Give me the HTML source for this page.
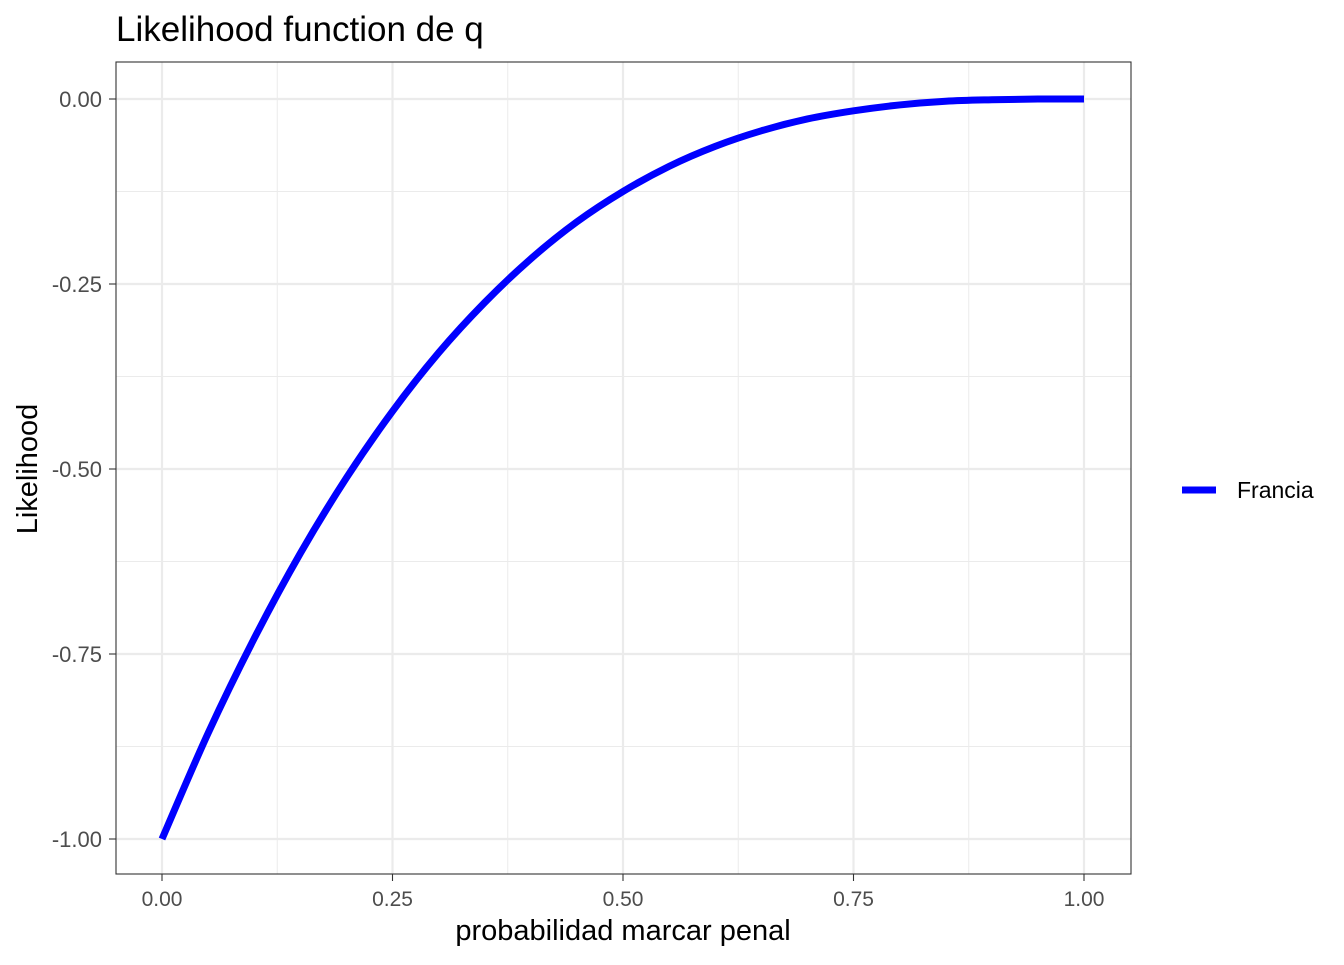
<!DOCTYPE html>
<html><head><meta charset="utf-8"><style>
body{margin:0;background:#fff}
svg text{font-family:"Liberation Sans",Arial,sans-serif}
</style></head><body>
<svg id="chart" width="1344" height="960" xmlns="http://www.w3.org/2000/svg">
<rect width="1344" height="960" fill="#fff"/>
<text x="116" y="41" font-size="35" fill="#000">Likelihood function de q</text>
<g id="grid"></g>
<g id="series"></g>
<rect x="116" y="62" width="1015" height="812" fill="none" stroke="#333" stroke-width="1.1"/>
<g id="axes"></g>
<text x="623" y="940" font-size="29" text-anchor="middle" fill="#000">probabilidad marcar penal</text>
<text transform="translate(37,469) rotate(-90)" font-size="29" text-anchor="middle" fill="#000">Likelihood</text>
<g>
<line x1="1182" y1="490" x2="1216" y2="490" stroke="#0000ff" stroke-width="7"/>
<text x="1237" y="498" font-size="23" fill="#000">Francia</text>
</g>
</svg>
<script>
const qValues=[0,0.05,0.1,0.15,0.2,0.25,0.3,0.35,0.4,0.45,0.5,0.55,0.6,0.65,0.7,0.75,0.8,0.85,0.9,0.95,1];
const likelihoodValues=[-1,-0.857,-0.729,-0.614,-0.512,-0.422,-0.343,-0.275,-0.216,-0.166,-0.125,-0.091,-0.064,-0.043,-0.027,-0.016,-0.008,-0.003,-0.001,0,0];
const xTicks=[0,0.25,0.5,0.75,1];
const xTickLabels=["0.00","0.25","0.50","0.75","1.00"];
const yTicks=[0,-0.25,-0.5,-0.75,-1];
const yTickLabels=["0.00","-0.25","-0.50","-0.75","-1.00"];
const NS="http://www.w3.org/2000/svg";
const xS=v=>162+v*922;
const yS=v=>99-v*740;
const grid=document.getElementById('grid'),axes=document.getElementById('axes'),series=document.getElementById('series');
function mk(tag,attrs,parent){const e=document.createElementNS(NS,tag);for(const k in attrs)e.setAttribute(k,attrs[k]);parent.appendChild(e);return e;}
for(let i=0;i<xTicks.length-1;i++){const m=(xTicks[i]+xTicks[i+1])/2;
 const l=mk('line',{x1:xS(m),x2:xS(m),y1:62,y2:874,stroke:'#ebebeb','stroke-width':1},grid);
 
 }
for(let i=0;i<yTicks.length-1;i++){const m=(yTicks[i]+yTicks[i+1])/2;
 const l=mk('line',{y1:yS(m),y2:yS(m),x1:116,x2:1131,stroke:'#ebebeb','stroke-width':1},grid);
 
 }
xTicks.forEach((t,i)=>{
 const g=mk('line',{x1:xS(t),x2:xS(t),y1:62,y2:874,stroke:'#ebebeb','stroke-width':2.2},grid);
 
 
 const tk=mk('line',{x1:xS(t),x2:xS(t),y1:874,y2:881,stroke:'#333','stroke-width':1.1},axes);
 
 
 const tx=mk('text',{x:xS(t),y:906,'font-size':21,fill:'#4d4d4d','text-anchor':'middle'},axes);
 tx.textContent=xTickLabels[i];
 
 
});
yTicks.forEach((t,i)=>{
 const g=mk('line',{y1:yS(t),y2:yS(t),x1:116,x2:1131,stroke:'#ebebeb','stroke-width':2.2},grid);
 
 
 const tk=mk('line',{y1:yS(t),y2:yS(t),x1:109,x2:116,stroke:'#333','stroke-width':1.1},axes);
 
 
 const tx=mk('text',{x:102,y:yS(t)+8,'font-size':22,fill:'#4d4d4d','text-anchor':'end'},axes);
 tx.textContent=yTickLabels[i];
 
 
});
const pts=qValues.map((q,i)=>[xS(q),yS(likelihoodValues[i])]);
let d='M'+pts[0][0]+','+pts[0][1];
for(let i=0;i<pts.length-1;i++){const p0=pts[Math.max(0,i-1)],p1=pts[i],p2=pts[i+1],p3=pts[Math.min(pts.length-1,i+2)];
 d+=' C'+(p1[0]+(p2[0]-p0[0])/6)+','+(p1[1]+(p2[1]-p0[1])/6)+' '+(p2[0]-(p3[0]-p1[0])/6)+','+(p2[1]-(p3[1]-p1[1])/6)+' '+p2[0]+','+p2[1];}
const line=mk('path',{d:d,fill:'none',stroke:'#0000ff','stroke-width':7,'stroke-linejoin':'round'},series);


</script>
</body></html>
